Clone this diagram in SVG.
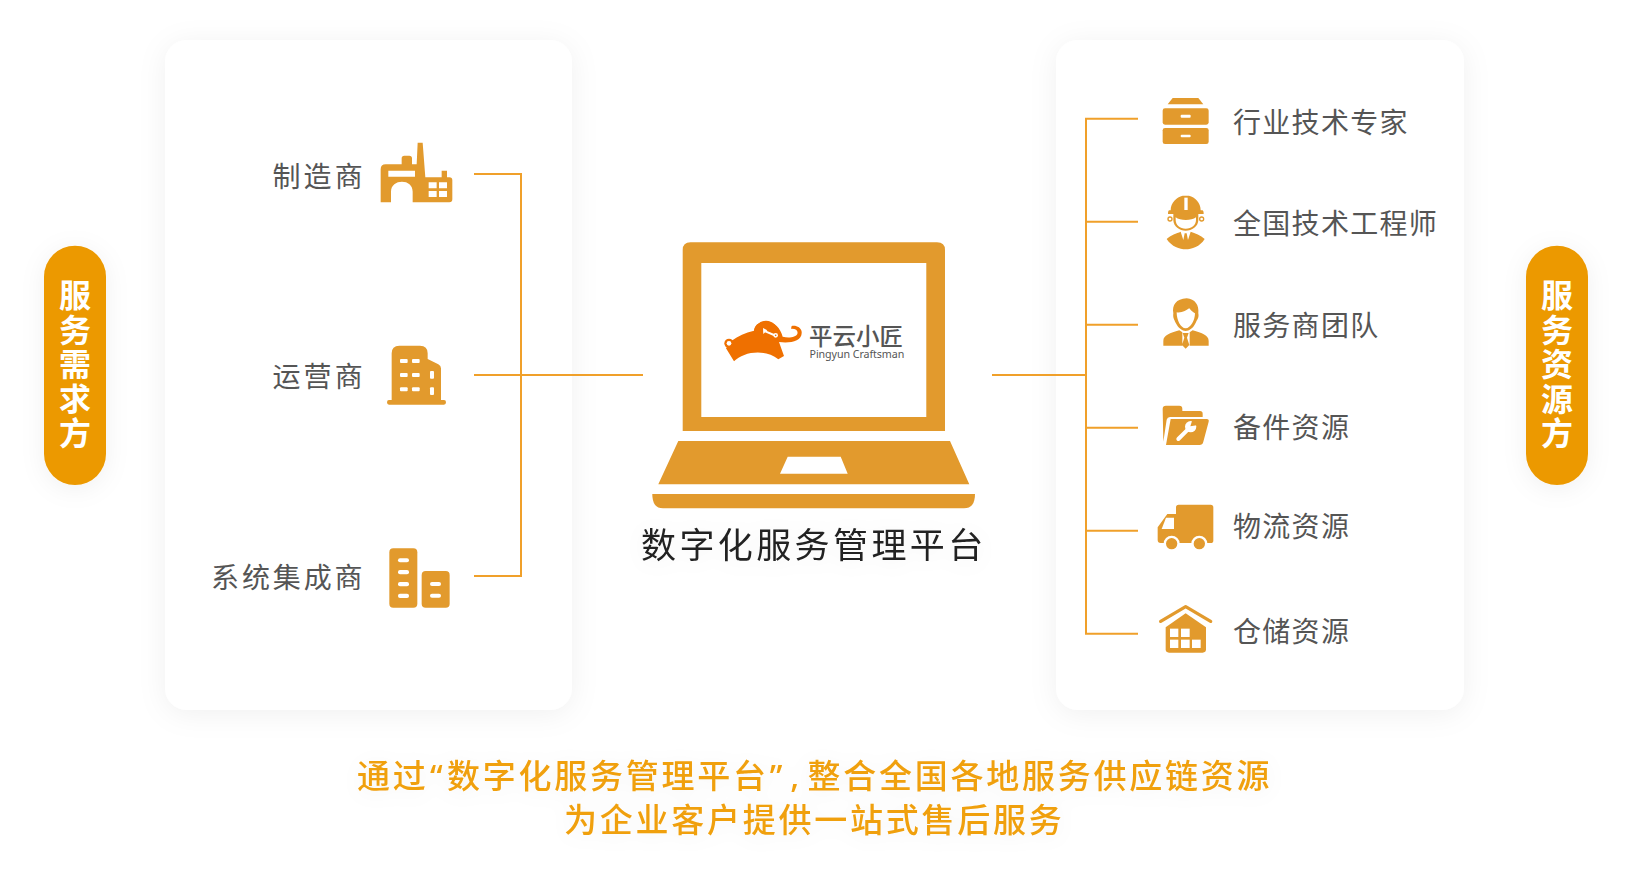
<svg xmlns="http://www.w3.org/2000/svg" width="1632" height="882" viewBox="0 0 1632 882">
<style>
text{font-family:"Noto Sans CJK SC","Noto Sans",sans-serif}
.lb{font-size:28px;fill:#555;letter-spacing:1.3px;font-weight:400}
.ll{letter-spacing:3.1px}
.pl{font-size:32px;fill:#fff;font-weight:700;text-anchor:middle}
.ic{fill:#e29a2d}
.w{fill:#fff}
.con{fill:none;stroke:#f0a02a;stroke-width:2}
.bt{font-size:33px;fill:#f0a010;letter-spacing:2.75px;font-weight:500;font-family:"Noto Sans","Noto Sans CJK SC",sans-serif}
</style>
<defs>
<filter id="sh" x="-20%" y="-20%" width="140%" height="140%"><feDropShadow dx="0" dy="4" stdDeviation="14" flood-color="#000" flood-opacity="0.06"/></filter>
<filter id="sh2" x="-60%" y="-30%" width="220%" height="160%"><feDropShadow dx="0" dy="4" stdDeviation="12" flood-color="#000" flood-opacity="0.06"/></filter>
<filter id="glow" x="-15%" y="-15%" width="130%" height="140%"><feDropShadow dx="0" dy="3" stdDeviation="10" flood-color="#000" flood-opacity="0.05"/></filter>
</defs>
<rect width="1632" height="882" fill="#fff"/>
<g id="card-left"><rect x="165" y="40" width="407" height="670" rx="22" fill="#fff" filter="url(#sh)"/></g>
<g id="card-right"><rect x="1056" y="40" width="408" height="670" rx="22" fill="#fff" filter="url(#sh)"/></g>
<g id="pill-left"><rect x="44" y="245.7" width="62" height="239.3" rx="31" fill="#ec9900" filter="url(#sh2)"/>
<text class="pl"><tspan x="75" y="307">服</tspan><tspan x="75" y="341.5">务</tspan><tspan x="75" y="376">需</tspan><tspan x="75" y="410.5">求</tspan><tspan x="75" y="445">方</tspan></text></g>
<g id="pill-right"><rect x="1526" y="245.7" width="62" height="239.3" rx="31" fill="#ec9900" filter="url(#sh2)"/>
<text class="pl"><tspan x="1557" y="307">服</tspan><tspan x="1557" y="341.5">务</tspan><tspan x="1557" y="376">资</tspan><tspan x="1557" y="410.5">源</tspan><tspan x="1557" y="445">方</tspan></text></g>
<g id="connectors" class="con">
<path d="M474 174H521V576H474M474 375H643"/>
<path d="M992 375H1086M1138 118.7H1086V633.7H1138M1086 221.7H1138M1086 324.7H1138M1086 427.7H1138M1086 530.7H1138"/>
</g>
<g id="n-manufacturer"><text class="lb ll" x="272.5" y="186.8">制造商</text>
<g transform="translate(370,130) scale(.3333)"><path class="ic" fill-rule="evenodd" d="M32 217V118Q32 103 47 103H95V85Q95 77 103 77H118Q126 77 126 85V103H140L143 38H158L166 142H215V122H231V142H238Q247 142 247 151V208Q247 217 238 217H128V185C128 165 113 155 96 155C79 155 63 165 63 185V217ZM55 122V140H135V122ZM176 157V175H200V157ZM207 157V175H231V157ZM176 183V201H200V183ZM207 183V201H231V183Z"/></g></g>
<g id="n-operator"><text class="lb ll" x="272.5" y="386.6">运营商</text>
<g transform="translate(375,335) scale(.3333)"><path class="ic" d="M50 195V55Q50 32 73 32H135Q158 32 158 55V72L190 88Q198 92 198 100V195H207Q213 195 213 202Q213 209 207 209H42Q36 209 36 202Q36 195 42 195Z"/>
<g class="w"><rect x="75" y="72" width="23" height="12" rx="3"/><rect x="111" y="72" width="23" height="12" rx="3"/><rect x="75" y="114" width="23" height="12" rx="3"/><rect x="111" y="114" width="23" height="12" rx="3"/><rect x="75" y="157" width="23" height="12" rx="3"/><rect x="111" y="157" width="23" height="12" rx="3"/><rect x="165" y="108" width="12" height="23" rx="3"/><rect x="165" y="157" width="12" height="23" rx="3"/></g></g></g>
<g id="n-integrator"><text class="lb" x="211" y="587.8" style="letter-spacing:2.9px">系统集成商</text>
<g transform="translate(375,335) scale(.3333)"><rect class="ic" x="43" y="640" width="84" height="178" rx="12"/><rect class="ic" x="140" y="708" width="84" height="110" rx="12"/>
<g class="w"><rect x="69" y="670" width="33" height="12" rx="6"/><rect x="69" y="705" width="33" height="13" rx="6"/><rect x="69" y="741" width="33" height="13" rx="6"/><rect x="69" y="776" width="33" height="13" rx="6"/><rect x="165" y="741" width="33" height="12" rx="6"/><rect x="165" y="776" width="33" height="12" rx="6"/></g></g></g>
<g id="laptop">
<path class="ic" fill-rule="evenodd" d="M682.7 431V250Q682.7 242.3 690.5 242.3H937Q945 242.3 945 250V431ZM701.3 263V417H926.3V263Z"/>
<path class="ic" fill-rule="evenodd" d="M678.3 441H950L969.3 484.3H658.3ZM787.7 456.7L780 473.7H847.7L840.7 456.7Z"/>
<path class="ic" d="M652.3 494H975Q975 508.3 964 508.3H663Q652.3 508.3 652.3 494Z"/>
<g transform="translate(710,300) scale(.3333)">
<path fill="#ef7000" d="M48 145L72 184C100 155 165 145 205 178L222 168L207 126C240 130 278 125 275 95C273 82 258 75 245 78L243 86C258 85 265 92 262 102C258 112 235 115 218 110C212 85 190 62 165 65C145 67 133 78 132 92C105 98 85 108 65 122Z"/>
<circle cx="168" cy="98" r="36" fill="#ef7000"/>
<circle cx="57" cy="130" r="14" fill="#ef7000"/><circle cx="57" cy="130" r="7" fill="#fff"/>
<path d="M166 94L192 105" stroke="#fff" stroke-width="6" fill="none"/><circle cx="197" cy="106" r="7" fill="#fff"/><circle cx="197" cy="106" r="2.5" fill="#ef7000"/><path d="M159 84L172 91L160 102Z" fill="#fff"/>
</g>
<text x="809" y="344.5" style="font-size:23.5px;fill:#555;font-weight:500">平云小匠</text>
<text x="809.5" y="357.5" style="font-size:10.7px;fill:#555;letter-spacing:-.08px;font-family:'Noto Sans',sans-serif">Pingyun Craftsman</text>
<text x="641" y="558" filter="url(#glow)" style="font-size:35px;fill:#222;letter-spacing:3.4px">数字化服务管理平台</text>
</g>
<g id="n-expert"><text class="lb" x="1233" y="132.6">行业技术专家</text>
<g transform="translate(1150,85) scale(.3333)"><path class="ic" d="M53 58L68 39H145L160 58Z"/><rect class="ic" x="38" y="70" width="138" height="49" rx="7"/><rect class="ic" x="38" y="129" width="138" height="48" rx="7"/><rect class="w" x="92" y="89" width="30" height="9" rx="3"/><rect class="w" x="92" y="149" width="30" height="8" rx="3"/></g></g>
<g id="n-engineer"><text class="lb" x="1233" y="233.6">全国技术工程师</text>
<g transform="translate(1150,85) scale(.3333)">
<circle cx="60" cy="402" r="6" fill="#fff" stroke="#e29a2d" stroke-width="4"/><circle cx="155" cy="402" r="6" fill="#fff" stroke="#e29a2d" stroke-width="4"/>
<path class="ic" d="M62 376C62 352 80 337 98 332H117C135 337 152 352 152 376H157Q161 376 161 387H54Q54 376 58 376Z"/><rect class="w" x="103" y="338" width="10" height="37"/>
<path class="ic" d="M70 385H145V405C145 425 125 437 107 437C89 437 70 425 70 405Z"/>
<path class="w" d="M77 397C90 408 125 408 138 397V405C138 420 125 431 107 431C90 431 77 420 77 405Z"/>
<path class="ic" d="M50 462C62 450 80 445 92 440L100 465L104 445H110L114 465L122 440C135 445 152 450 164 462C150 485 125 493 107 493C89 493 65 485 50 462Z"/></g></g>
<g id="n-provider"><text class="lb" x="1233" y="335.6">服务商团队</text>
<g transform="translate(1150,285) scale(.3333)"><path class="ic" d="M70 85C66 60 78 42 110 40C135 42 148 60 145 85C148 100 140 105 138 112C130 130 117 138 107 138C97 138 85 130 76 112C74 105 68 100 70 85Z"/><path class="w" d="M80 82C95 85 110 75 118 70C125 80 130 82 135 85C135 105 122 130 107 130C92 130 80 105 80 82Z"/>
<path class="ic" d="M40 182V168C40 150 60 145 88 136L97 142V182ZM176 182V168C176 150 156 145 128 136L119 142V182ZM98 144H116L111 158L118 180L107 191L96 180L103 158Z"/></g></g>
<g id="n-parts"><text class="lb" x="1233" y="437.6">备件资源</text>
<g transform="translate(1150,285) scale(.3333)"><path class="ic" d="M38 372Q38 362 48 362H88Q97 362 97 372V378H150Q158 378 158 386V396H60Q52 396 50 404L40 470Z"/><path class="ic" d="M62 402H170Q178 402 176 410L160 470Q158 480 148 480H48Z"/>
<path d="M85 462L117 430" stroke="#fff" stroke-width="12" stroke-linecap="round" fill="none"/><circle class="w" cx="122" cy="425" r="17"/><path class="ic" d="M121 424L127 405L145 420Z"/></g></g>
<g id="n-logistics"><text class="lb" x="1233" y="536.6">物流资源</text>
<g transform="translate(1150,490) scale(.3333)"><path class="ic" d="M78 52Q78 44 86 44H182Q190 44 190 52V152Q190 159 182 159H32Q23 159 23 150V112L52 72H78Z"/><path class="w" d="M48 83H72V117H35Z"/><circle class="w" cx="65" cy="161" r="24"/><circle class="w" cx="148" cy="161" r="24"/><rect class="w" x="40" y="160" width="135" height="30"/><circle class="ic" cx="65" cy="161" r="17"/><circle class="ic" cx="148" cy="161" r="17"/></g></g>
<g id="n-warehouse"><text class="lb" x="1233" y="641.6">仓储资源</text>
<g transform="translate(1150,490) scale(.3333)"><path d="M32 394L107 350L182 394" fill="none" stroke="#e29a2d" stroke-width="10" stroke-linecap="round" stroke-linejoin="round"/><path class="ic" d="M47 412L107 370L168 412V478Q168 488 158 488H57Q47 488 47 478Z"/>
<g class="w"><rect x="60" y="416" width="25" height="25"/><rect x="93" y="416" width="26" height="25"/><rect x="60" y="449" width="25" height="25"/><rect x="93" y="449" width="26" height="25"/><rect x="126" y="449" width="26" height="25"/></g></g></g>
<g id="caption" filter="url(#glow)">
<text class="bt" x="357" y="787.5">通过<tspan dx="1.5">“</tspan><tspan dx="1.5">数字化服务管理平台</tspan><tspan dx="1">”</tspan><tspan dx="5">,</tspan><tspan dx="5.6">整合全国各地服务供应链资源</tspan></text>
<text class="bt" x="564" y="832">为企业客户提供一站式售后服务</text>
</g>
</svg>
